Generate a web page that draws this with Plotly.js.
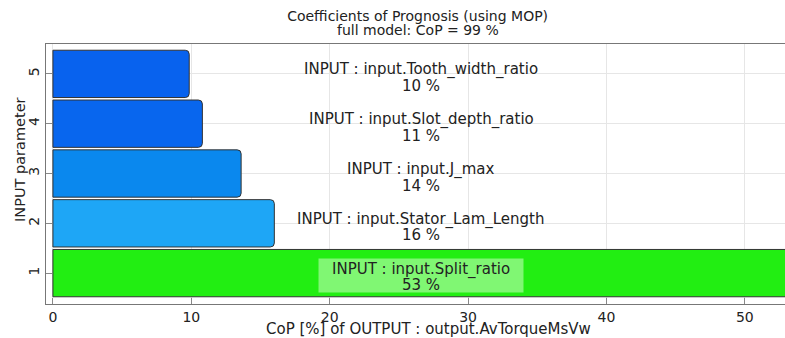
<!DOCTYPE html>
<html>
<head>
<meta charset="utf-8">
<script src="https://cdn.plot.ly/plotly-3.0.1.min.js"></script>
<style>
  html, body { margin: 0; padding: 0; background: #fff; }
  #grafico { width: 785px; height: 338px; }
</style>
</head>
<body>
<div id="grafico"></div>
<script>
// data
const paramIds = [1, 2, 3, 4, 5];
const paramNames = ['input.Split_ratio', 'input.Stator_Lam_Length', 'input.J_max', 'input.Slot_depth_ratio', 'input.Tooth_width_ratio'];
const copValues = [53, 16.0, 13.6, 10.8, 9.85];
const copLabels = ['53 %', '16 %', '14 %', '11 %', '10 %'];
const barColors = ['#22ee12', '#1ea6f6', '#0a88ee', '#0866ee', '#0862ee'];
const xTicks = [0, 10, 20, 30, 40, 50];

document.addEventListener('DOMContentLoaded', () => {
    const graficoDiv = document.getElementById('grafico');
    const fam = 'DejaVu Sans, Verdana, sans-serif';
    const font = { family: fam, size: 15, color: '#222' };
    const tickFont = { family: fam, size: 14, color: '#222' };
    const titleFont = { family: fam, size: 14, color: '#222' };
    const labelX = 26.6;

    // the top bar is drawn square, the others rounded
    const mainTrace = {
        type: 'bar', orientation: 'h',
        x: copValues.slice(0, 1), y: paramIds.slice(0, 1),
        width: 0.95,
        marker: { color: barColors.slice(0, 1), line: { color: '#333', width: 1 } },
        hoverinfo: 'none'
    };
    const otherTrace = {
        type: 'bar', orientation: 'h',
        x: copValues.slice(1), y: paramIds.slice(1),
        width: 0.95,
        marker: { color: barColors.slice(1), line: { color: '#333', width: 1 }, cornerradius: 4 },
        hoverinfo: 'none'
    };

    const annotations = [
        // light box behind the label of the top parameter
        { x: labelX, y: paramIds[0], xref: 'x', yref: 'y', yshift: -2,
          text: ' ', showarrow: false, width: 202, height: 31,
          bgcolor: 'rgba(205,255,195,0.55)' },
        // second title line, axis titles
        { x: 0.503, y: 1, xref: 'paper', yref: 'paper', yshift: 14,
          xanchor: 'center', yanchor: 'middle',
          text: 'full model: CoP = 99 %', showarrow: false, font: titleFont },
        { x: 0.518, y: 0, xref: 'paper', yref: 'paper', yshift: -25,
          xanchor: 'center', yanchor: 'middle',
          text: 'CoP [%] of OUTPUT : output.AvTorqueMsVw', showarrow: false, font: font },
        { x: 0, y: 0.554, xref: 'paper', yref: 'paper', xshift: -26, textangle: -90,
          xanchor: 'center', yanchor: 'middle',
          text: 'INPUT parameter', showarrow: false, font: { family: fam, size: 14.5, color: '#222' } }
    ];
    paramIds.forEach((id, i) => {
        annotations.push({
            x: labelX, y: id, xref: 'x', yref: 'y', yshift: 4,
            text: 'INPUT : ' + paramNames[i],
            showarrow: false, font: font
        });
        annotations.push({
            x: labelX, y: id, xref: 'x', yref: 'y', yshift: -12,
            text: copLabels[i],
            showarrow: false, font: font
        });
    });

    const layout = {
        width: 785, height: 338,
        margin: { l: 46, r: 0, t: 44, b: 34 },
        title: {
            text: 'Coefficients of Prognosis (using MOP)',
            font: titleFont,
            x: 0.532, xanchor: 'center',
            yref: 'container', y: 0.952, yanchor: 'middle'
        },
        font: font,
        barmode: 'overlay',
        showlegend: false,
        xaxis: {
            range: [-0.5, 52.9],
            tickvals: xTicks,
            ticks: 'inside', ticklen: 6, tickcolor: '#888',
            showline: true, linecolor: '#777', mirror: true,
            showgrid: true, gridcolor: '#e6e6e6',
            zeroline: false,
            tickfont: tickFont
        },
        yaxis: {
            range: [0.38, 5.6],
            tickvals: paramIds,
            ticks: 'inside', ticklen: 6, tickcolor: '#888',
            showline: true, linecolor: '#777',
            showgrid: true, gridcolor: '#e6e6e6',
            zeroline: false,
            tickangle: -90,
            tickfont: tickFont
        },
        annotations: annotations,
        plot_bgcolor: '#ffffff',
        paper_bgcolor: '#ffffff'
    };

    Plotly.newPlot(graficoDiv, [mainTrace, otherTrace], layout, { displayModeBar: false, staticPlot: true });
});
</script>
</body>
</html>
